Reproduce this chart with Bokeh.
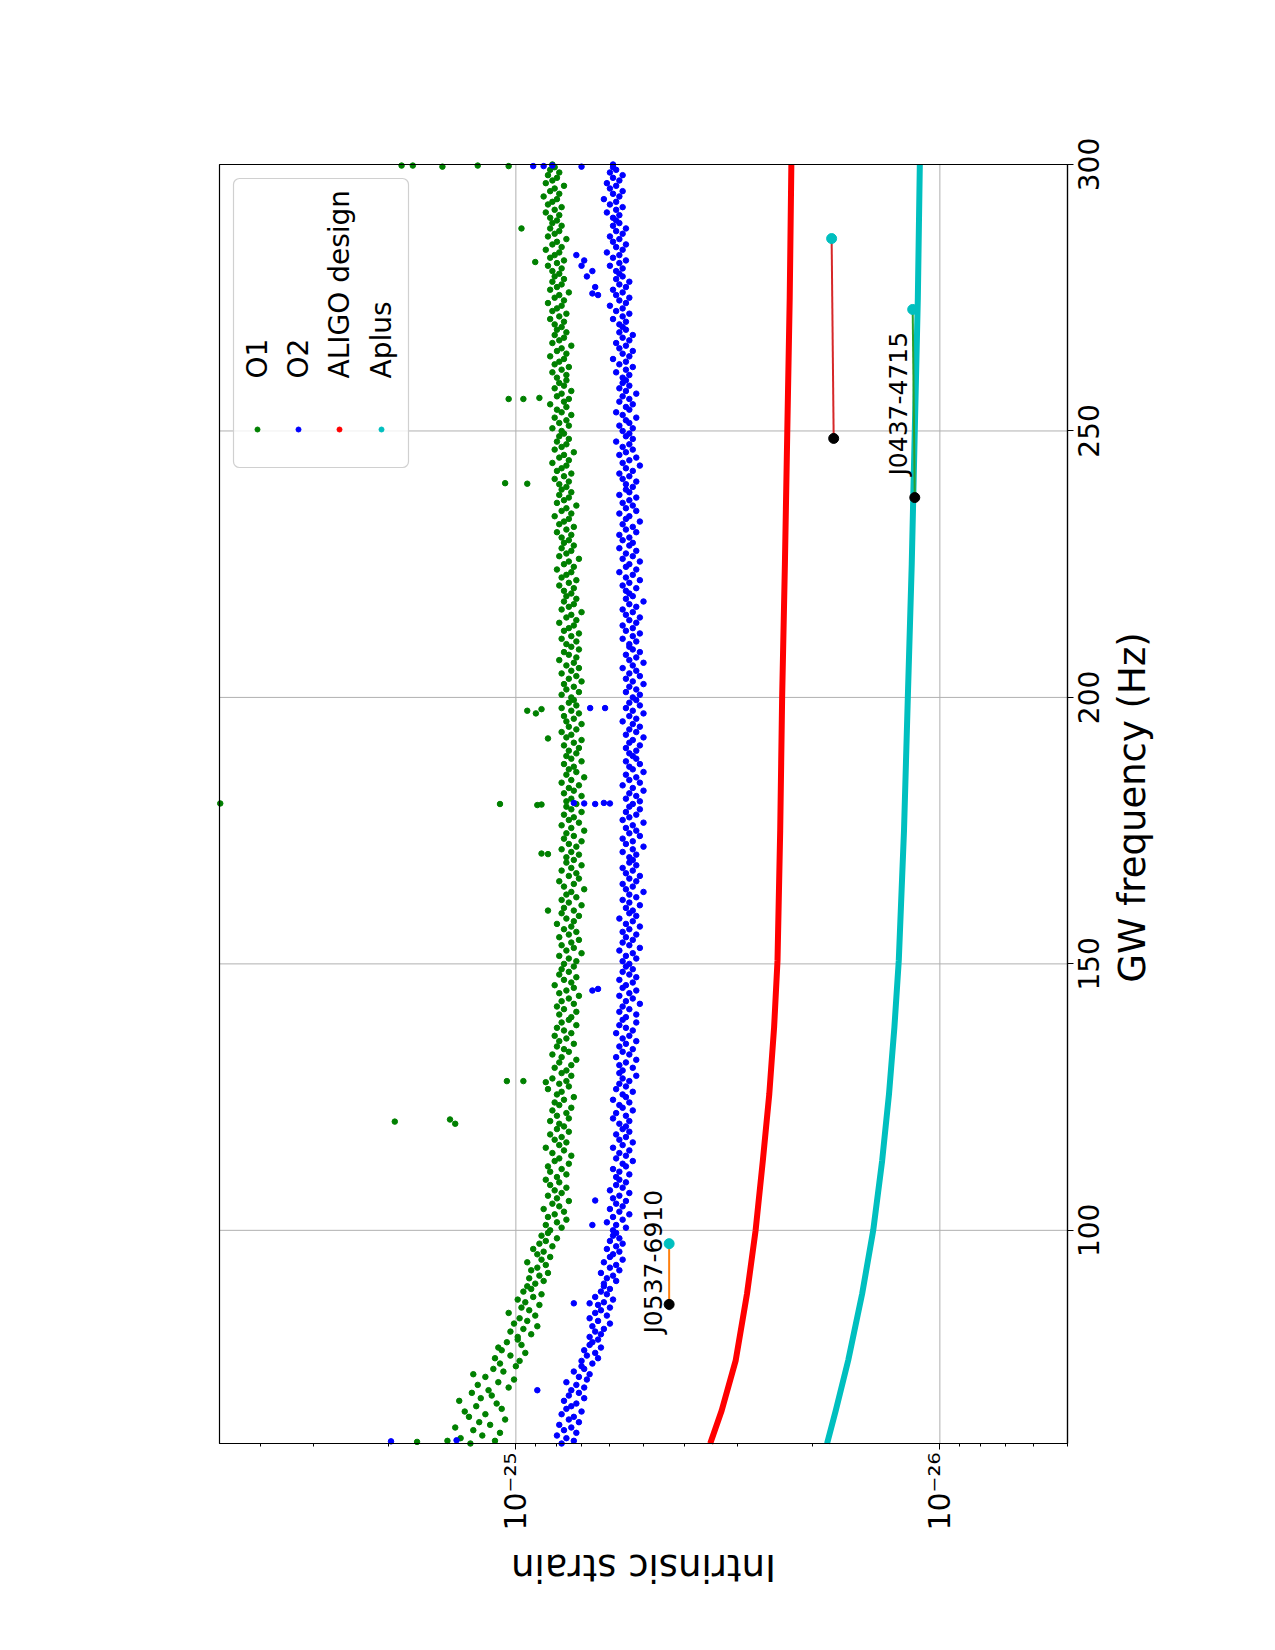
import math
import numpy as np
from bokeh.plotting import figure
from bokeh.models import (Range1d, FixedTicker, CustomJSTickFormatter, LogAxis, LinearAxis)
from bokeh.core.properties import value
from bokeh.embed import file_html
from bokeh.resources import INLINE

FONT = "DejaVu Sans"

# ---------------- data (strain values in units of 1e-26) ----------------
band_f_start = 60.0
band_f_step = 0.5

o1_vals = """
12.8 11.2 13.5 12.0 10.9 12.6 13.9 11.5 12.2 10.6 12.9 11.8 13.2 10.8 12.4 11.1 13.6 12.1 11.4 12.7
11.6 10.4 12.3 11.0 10.1 11.8 12.6 10.7 11.3 10.0 10.9 9.8 11.2 10.3 9.5 10.8 11.0 9.7 10.5 9.9
9.9 9.2 10.3 9.6 8.9 10.1 9.4 9.8 9.0 10.4 9.3 9.7 8.8 9.5 9.9 9.1 8.7 9.6 9.2 9.4
9.0 8.6 9.3 8.8 8.4 9.2 8.9 8.5 9.4 8.7 8.3 8.9 8.6 9.1 8.2 8.8 8.5 8.0 8.7 8.4
8.3 7.8 8.5 8.0 7.6 8.4 8.1 7.7 8.6 7.9 8.2 7.5 8.0 8.4 7.8 8.1 7.6 8.3 7.9 8.5
8.0 7.6 8.3 7.8 8.4 7.5 8.1 7.9 7.4 8.2 7.7 8.5 7.9 7.6 8.1 7.8 8.3 7.5 8.0 7.7
7.9 8.3 7.5 8.0 7.6 8.2 7.4 7.9 8.1 7.7 7.3 8.0 7.8 8.4 7.5 7.9 7.6 8.2 7.4 7.8
7.6 8.1 7.4 7.9 7.2 7.8 8.2 7.5 7.7 8.0 7.3 7.9 7.6 8.1 7.4 7.7 8.0 7.2 7.8 7.5
7.4 7.9 7.2 7.7 8.0 7.3 7.8 7.5 7.1 7.9 7.6 7.3 8.1 7.4 7.7 7.2 7.9 7.5 7.8 7.3
7.7 7.2 7.5 7.9 7.0 7.6 7.3 7.8 7.4 7.1 7.9 7.5 7.2 7.7 7.4 8.0 7.3 7.6 7.1 7.8
7.3 7.7 7.0 7.5 7.8 7.2 7.6 7.4 6.9 7.7 7.3 7.9 7.1 7.5 7.2 7.8 7.4 7.0 7.6 7.3
7.6 7.1 7.4 7.8 7.2 7.5 7.0 7.7 7.3 7.6 6.9 7.4 7.8 7.1 7.5 7.3 7.7 7.0 7.4 7.6
7.2 7.6 7.4 7.0 7.7 7.3 7.5 7.1 7.8 7.4 6.9 7.6 7.2 7.5 7.3 7.7 7.0 7.4 7.6 7.2
7.5 7.1 7.7 7.3 7.0 7.6 7.4 7.8 7.2 7.5 7.0 7.6 7.3 7.7 7.1 7.4 7.8 7.2 7.5 7.3
7.4 7.8 7.1 7.6 7.3 7.7 7.0 7.5 7.2 7.8 7.4 7.1 7.6 7.3 7.9 7.2 7.5 7.7 7.1 7.4
7.6 7.2 7.8 7.4 7.1 7.7 7.5 7.3 7.9 7.2 7.6 7.4 7.0 7.8 7.5 7.3 7.7 7.2 7.6 7.4
7.7 7.3 7.9 7.5 7.2 7.8 7.6 7.4 8.0 7.3 7.7 7.5 7.1 7.9 7.6 7.4 7.8 7.3 7.7 7.5
7.8 7.4 8.0 7.6 7.3 7.9 7.7 7.5 8.1 7.4 7.8 7.6 7.2 8.0 7.7 7.5 7.9 7.4 7.8 7.6
7.9 7.5 8.1 7.7 7.4 8.0 7.8 7.6 8.2 7.5 7.9 7.7 7.3 8.1 7.8 7.6 8.0 7.5 7.9 7.7
7.8 8.2 7.5 7.9 7.6 8.1 7.4 7.8 8.0 7.6 8.3 7.7 7.5 8.0 7.8 7.4 8.1 7.7 7.9 7.6
8.0 7.6 8.2 7.8 7.5 8.1 7.9 7.7 8.3 7.6 8.0 7.8 7.4 8.2 7.9 7.7 8.1 7.6 8.0 7.8
8.1 7.7 8.3 7.9 7.6 8.2 8.0 7.8 8.4 7.7 8.1 7.9 7.5 8.3 8.0 7.8 8.2 7.7 8.1 7.9
8.2 7.8 8.4 8.0 7.7 8.3 8.1 7.9 8.5 7.8 8.2 8.0 7.6 8.4 8.1 7.9 8.3 7.8 8.2 8.0
8.3 7.9 8.5 8.1 7.8 8.4 8.2 8.0 8.6 7.9 8.3 8.1 7.7 8.5 8.2 8.0 8.4 7.9 8.3 8.1
8.2
"""

o2_vals = """
7.8 7.3 7.6 8.0 7.2 7.7 7.4 7.9 7.1 7.5 7.3 7.8 7.0 7.6 7.4 7.2 7.7 6.9 7.5 7.1
7.4 6.9 7.2 7.6 6.8 7.1 6.7 7.3 6.9 7.0 6.6 7.0 6.4 6.8 6.5 6.9 6.3 6.7 6.6 6.4
6.7 6.3 6.5 6.2 6.6 6.0 6.4 6.7 6.1 6.5 6.3 6.0 6.4 6.2 5.9 6.5 6.1 6.3 6.0 6.2
6.2 5.8 6.1 5.9 6.3 5.7 6.0 5.8 6.2 5.6 6.0 5.9 5.7 6.1 5.8 5.6 6.0 5.7 5.9 5.8
5.9 5.5 5.8 6.1 5.6 5.9 5.4 5.7 6.0 5.6 5.8 5.5 5.9 5.7 5.4 6.0 5.6 5.8 5.5 5.7
5.8 5.4 5.7 5.9 5.5 5.6 5.3 5.8 5.5 5.7 5.4 5.9 5.6 5.3 5.7 5.5 5.8 5.4 5.6 5.5
5.7 5.4 5.9 5.5 5.8 5.3 5.6 5.7 5.4 5.9 5.5 5.6 5.3 5.8 5.5 5.7 5.4 5.6 5.2 5.7
5.6 5.3 5.7 5.5 5.2 5.8 5.4 5.6 5.3 5.7 5.5 5.2 5.6 5.4 5.8 5.3 5.5 5.7 5.2 5.6
5.5 5.2 5.7 5.4 5.6 5.1 5.5 5.3 5.7 5.4 5.2 5.6 5.5 5.3 5.7 5.2 5.4 5.6 5.3 5.5
5.4 5.6 5.2 5.5 5.3 5.7 5.1 5.4 5.6 5.3 5.5 5.2 5.6 5.4 5.1 5.5 5.3 5.7 5.2 5.4
5.3 5.5 5.1 5.4 5.6 5.2 5.4 5.0 5.5 5.3 5.6 5.2 5.4 5.1 5.5 5.3 5.6 5.2 5.4 5.3
5.4 5.2 5.6 5.3 5.0 5.5 5.3 5.6 5.1 5.4 5.2 5.5 5.3 5.0 5.6 5.4 5.2 5.5 5.1 5.4
5.3 5.1 5.5 5.2 5.4 5.0 5.3 5.6 5.1 5.4 5.2 5.5 5.0 5.3 5.4 5.1 5.5 5.2 5.3 5.4
5.2 5.5 5.1 5.4 5.3 5.0 5.5 5.2 5.4 5.1 5.3 5.6 5.2 5.4 5.0 5.3 5.5 5.1 5.4 5.2
5.3 5.1 5.5 5.2 5.4 5.0 5.3 5.5 5.1 5.4 5.2 5.6 5.3 5.0 5.4 5.2 5.5 5.1 5.3 5.4
5.4 5.2 5.6 5.3 5.1 5.5 5.3 5.6 5.2 5.4 5.1 5.5 5.3 5.6 5.2 5.4 5.0 5.5 5.3 5.4
5.5 5.2 5.6 5.4 5.1 5.5 5.3 5.7 5.2 5.5 5.4 5.1 5.6 5.3 5.5 5.2 5.7 5.4 5.3 5.6
5.4 5.7 5.2 5.5 5.3 5.6 5.1 5.5 5.4 5.7 5.2 5.5 5.3 5.6 5.4 5.2 5.7 5.4 5.5 5.3
5.5 5.2 5.6 5.4 5.7 5.3 5.5 5.1 5.6 5.4 5.2 5.7 5.5 5.3 5.6 5.4 5.8 5.3 5.5 5.4
5.6 5.3 5.7 5.4 5.5 5.2 5.6 5.8 5.4 5.5 5.3 5.7 5.4 5.6 5.2 5.5 5.7 5.4 5.6 5.5
5.6 5.4 5.8 5.5 5.3 5.7 5.5 5.9 5.4 5.6 5.3 5.7 5.5 5.8 5.4 5.6 5.3 5.7 5.5 5.6
5.7 5.5 5.9 5.6 5.4 5.8 5.6 6.0 5.5 5.7 5.4 5.8 5.6 5.9 5.5 5.7 5.4 5.8 5.6 5.7
5.8 5.6 6.0 5.7 5.5 5.9 5.7 6.1 5.6 5.8 5.5 5.9 5.7 6.0 5.6 5.8 5.5 5.9 5.7 5.8
5.9 5.7 6.1 5.8 5.6 6.0 5.8 6.2 5.7 5.9 5.6 6.0 5.8 6.1 5.7 5.9 5.6 6.0 5.8 5.9
5.9
"""

# isolated points (frequency Hz, strain 1e-26)
o1_extra_f = [299.8, 299.8, 299.6, 299.8, 299.7, 288.0, 281.7, 256.0, 256.0, 256.2,
              240.2, 240.1, 197.5, 197.0, 197.8, 192.3, 180.1, 180.0, 179.8, 179.9,
              170.7, 170.6, 160.0, 128.0, 128.0, 127.8, 120.4, 120.8, 120.0, 60.3, 60.5]
o1_extra_h = [18.6, 17.5, 14.9, 12.3, 10.4, 9.7, 9.0, 10.4, 9.6, 8.8,
              10.6, 9.4, 9.4, 8.97, 8.7, 8.4, 49.8, 10.9, 8.9, 8.7,
              8.7, 8.4, 8.4, 10.5, 9.6, 8.5, 19.3, 14.3, 13.9, 17.1, 14.5]

o2_extra_f = [299.7, 299.7, 299.8, 299.6, 283.0, 282.0, 281.0, 280.0, 279.0, 277.0,
              275.8, 275.5, 198.0, 198.0, 180.2, 180.1, 180.0, 180.2, 180.1, 145.0,
              145.3, 105.6, 101.0, 86.3, 86.3, 70.0, 60.4, 60.6]
o2_extra_h = [9.1, 8.6, 8.2, 7.0, 7.2, 6.9, 7.0, 6.6, 6.8, 6.5,
              6.6, 6.4, 6.68, 6.16, 7.3, 6.9, 6.5, 6.2, 6.0, 6.6,
              6.4, 6.5, 6.6, 7.3, 6.7, 8.9, 19.7, 13.8]

curve_f = [60, 66.2, 75.6, 88.1, 100, 113.1, 125.6, 138.1, 150.6, 175, 200, 225, 250, 275, 300]
aligo_h = [3.48, 3.27, 3.03, 2.85, 2.72, 2.615, 2.525, 2.46, 2.415, 2.38, 2.355, 2.32, 2.29,
           2.26, 2.24]
aplus_h = [1.845, 1.76, 1.645, 1.525, 1.436, 1.368, 1.318, 1.28, 1.25, 1.215, 1.19, 1.165,
           1.146, 1.127, 1.115]

psr_f_lo = [86.1, 237.5, 248.6]
psr_f_hi = [97.5, 272.8, 286.1]
psr_h_lo = [4.35, 1.146, 1.78]
psr_h_hi = [4.35, 1.159, 1.80]
psr_names = ["J0537-6910", "J0437-4715", ""]

legend_names = ["O1", "O2", "ALIGO design", "Aplus"]
freq_ticks = [100, 150, 200, 250, 300]
freq_tick_labels = ["100", "150", "200", "250", "300"]
strain_ticks = [1e-26, 1e-25]

# ---------------- layout constants ----------------
W, H = 1275, 1650
BOX_L, BOX_R, BOX_T, BOX_B = 219, 1067, 164, 1443      # plot box in page pixels
S_HI, S_LO = 5e-25, 5e-27                               # strain at box left / right
F_LO, F_HI = 60.0, 300.0                                # frequency at box bottom / top
DEC_PX = (math.log10(S_HI) - math.log10(S_LO)) / (BOX_R - BOX_L)
HZ_PX = (F_HI - F_LO) / (BOX_B - BOX_T)


def sx(px):
    """strain value at page pixel column px"""
    return 10 ** (math.log10(S_HI) - (px - BOX_L) * DEC_PX)


def fy(py):
    """frequency value at page pixel row py"""
    return F_HI - (py - BOX_T) * HZ_PX


U = 1e-26
o1_h = np.array([float(v) for v in o1_vals.split()]) * U
o2_h = np.array([float(v) for v in o2_vals.split()]) * U
o1_f = band_f_start + band_f_step * np.arange(len(o1_h))
o2_f = band_f_start + band_f_step * np.arange(len(o2_h))

C_O1, C_O2, C_AL, C_AP = "#008000", "#0000ff", "#ff0000", "#00bfbf"

p = figure(width=W, height=H, x_axis_type="log",
           x_range=Range1d(sx(0), sx(W)), y_range=Range1d(fy(H), fy(0)),
           x_axis_location=None, y_axis_location=None,
           output_backend="svg", toolbar_location=None,
           min_border_left=0, min_border_right=0, min_border_top=0, min_border_bottom=0,
           background_fill_color="white", border_fill_color="white")
p.outline_line_color = None
p.grid.grid_line_color = None

# ---- axes of the plot box (fixed inside the page) ----
minor = []
for d in (1e-27, 1e-26, 1e-25):
    for m in range(2, 10):
        v = m * d
        if S_LO <= v <= S_HI:
            minor.append(v)

xaxis = LogAxis(fixed_location=F_LO, bounds=(S_LO, S_HI),
                ticker=FixedTicker(ticks=strain_ticks, minor_ticks=minor))
xaxis.formatter = CustomJSTickFormatter(code="""
const e = Math.round(Math.log10(tick));
const sup = {'-':'\u207b','0':'\u2070','1':'\u00b9','2':'\u00b2','3':'\u00b3','4':'\u2074','5':'\u2075','6':'\u2076','7':'\u2077','8':'\u2078','9':'\u2079'};
return '10' + String(e).split('').map(c => sup[c]).join('');
""")
yaxis = LinearAxis(fixed_location=S_LO, bounds=(F_LO, F_HI),
                   ticker=FixedTicker(ticks=freq_ticks, minor_ticks=[]))
yaxis.formatter = CustomJSTickFormatter(code="return '';")
for ax in (xaxis, yaxis):
    ax.major_label_text_font = FONT
    ax.major_label_text_font_size = "30px"
    ax.major_label_text_color = "black"
    ax.major_label_orientation = math.pi / 2
    ax.axis_line_color = "black"
    ax.axis_line_width = 1.2
    ax.major_tick_line_color = "black"
    ax.minor_tick_line_color = "black"
    ax.major_tick_in = 0
    ax.major_tick_out = 6
    ax.minor_tick_in = 0
    ax.minor_tick_out = 3
    ax.major_label_standoff = 3
p.add_layout(xaxis, "below")
p.add_layout(yaxis, "right")

# grid lines inside the box
p.segment(x0=strain_ticks, y0=[F_LO] * 2, x1=strain_ticks, y1=[F_HI] * 2,
          line_color="#b0b0b0", line_width=1)
p.segment(x0=[S_HI] * len(freq_ticks), y0=freq_ticks, x1=[S_LO] * len(freq_ticks),
          y1=freq_ticks, line_color="#b0b0b0", line_width=1)

# legend frame
try:
    p.quad(left=sx(233), right=sx(408), top=fy(178), bottom=fy(467), fill_color="white",
           fill_alpha=0.8, line_color="#d0d0d0", line_width=1.2, border_radius=6)
except Exception:
    p.quad(left=sx(233), right=sx(408), top=fy(178), bottom=fy(467), fill_color="white",
           fill_alpha=0.8, line_color="#d0d0d0", line_width=1.2)

# data
DOT = 5.5
p.scatter(o1_h, o1_f, size=DOT, color=C_O1)
p.scatter(np.array(o1_extra_h) * U, o1_extra_f, size=DOT, color=C_O1)
p.scatter(o2_h, o2_f, size=DOT, color=C_O2)
p.scatter(np.array(o2_extra_h) * U, o2_extra_f, size=DOT, color=C_O2)
p.line(np.array(aligo_h) * U, curve_f, line_width=6, color=C_AL, line_join="round")
p.line(np.array(aplus_h) * U, curve_f, line_width=6, color=C_AP, line_join="round")

psr_line_colors = ["#ff7f0e", "#2ca02c", "#d62728"]
for i in range(len(psr_f_lo)):
    p.line([psr_h_lo[i] * U, psr_h_hi[i] * U], [psr_f_lo[i], psr_f_hi[i]],
           line_width=2, color=psr_line_colors[i])
p.scatter(np.array(psr_h_lo) * U, psr_f_lo, size=10, color="black")
p.scatter(np.array(psr_h_hi) * U, psr_f_hi, size=10, color=C_AP)

p.text(x=[sx(653), sx(898)], y=[fy(1333), fy(475)], text=[n for n in psr_names if n],
       angle=math.pi / 2, text_font=value(FONT), text_font_size="25px",
       text_align="left", text_baseline="middle", text_color="black")

# legend entries (rotated like the page)
leg_x = [sx(257), sx(298), sx(339), sx(381)]
p.scatter(leg_x, [fy(429)] * 4, size=5, color=[C_O1, C_O2, C_AL, C_AP])
p.text(x=leg_x, y=[fy(378)] * 4, text=legend_names, angle=math.pi / 2,
       text_font=value(FONT), text_font_size="28px", text_align="left",
       text_baseline="middle", text_color="black")

# frame of the plot box
p.quad(left=S_HI, right=S_LO, bottom=F_LO, top=F_HI, fill_color=None,
       line_color="black", line_width=1.2)

# frequency tick labels (rotated, centred on ticks)
p.text(x=[sx(1088)] * len(freq_ticks), y=freq_ticks, text=freq_tick_labels,
       angle=math.pi / 2, text_font=value(FONT), text_font_size="28px",
       text_align="center", text_baseline="middle", text_color="black")

# axis titles
p.text(x=[sx(1132)], y=[fy(807)], text=["GW frequency (Hz)"], angle=math.pi / 2,
       text_font=value(FONT), text_font_size="37px", text_align="center",
       text_baseline="middle", text_color="black")
p.text(x=[sx(643)], y=[fy(1567)], text=["Intrinsic strain"], angle=math.pi,
       text_font=value(FONT), text_font_size="37px", text_align="center",
       text_baseline="middle", text_color="black")

open("out.html", "w").write(file_html(p, INLINE))
